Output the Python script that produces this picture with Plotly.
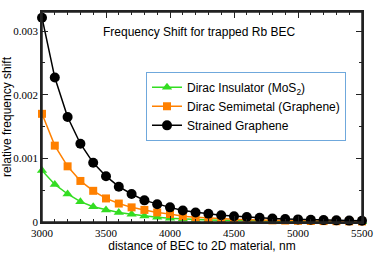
import plotly.graph_objects as go

distance_nm = [3000, 3100, 3200, 3300, 3400, 3500, 3600, 3700, 3800, 3900, 4000,
               4100, 4200, 4300, 4400, 4500, 4600, 4700, 4800, 4900, 5000,
               5100, 5200, 5300, 5400, 5500]

dirac_insulator = [0.81e-3, 0.59e-3, 0.44e-3, 0.32e-3, 0.24e-3, 0.19e-3, 0.15e-3, 0.12e-3,
                   0.095e-3, 0.075e-3, 0.06e-3, 0.048e-3, 0.04e-3, 0.033e-3, 0.027e-3,
                   0.023e-3, 0.019e-3, 0.016e-3, 0.013e-3, 0.011e-3, 0.009e-3,
                   0.0078e-3, 0.0066e-3, 0.0056e-3, 0.0048e-3, 0.004e-3]

dirac_semimetal = [1.70e-3, 1.20e-3, 0.875e-3, 0.645e-3, 0.49e-3, 0.37e-3, 0.29e-3, 0.23e-3,
                   0.19e-3, 0.15e-3, 0.125e-3, 0.092e-3, 0.075e-3, 0.062e-3, 0.052e-3,
                   0.044e-3, 0.037e-3, 0.031e-3, 0.026e-3, 0.022e-3, 0.019e-3,
                   0.016e-3, 0.014e-3, 0.012e-3, 0.010e-3, 0.009e-3]

strained_graphene = [3.21e-3, 2.27e-3, 1.65e-3, 1.23e-3, 0.93e-3, 0.72e-3, 0.555e-3, 0.44e-3,
                     0.34e-3, 0.28e-3, 0.23e-3, 0.18e-3, 0.15e-3, 0.13e-3, 0.105e-3,
                     0.09e-3, 0.078e-3, 0.066e-3, 0.056e-3, 0.048e-3, 0.041e-3,
                     0.035e-3, 0.030e-3, 0.026e-3, 0.022e-3, 0.019e-3]

series_names = ["Dirac Insulator (MoS<sub>2</sub>)", "Dirac Semimetal (Graphene)", "Strained Graphene"]

y_tickvals = [0, 0.001, 0.002, 0.003]
y_ticktext = ["0", "0.001", "0.002", "0.003"]
x_tickvals = [3000, 3500, 4000, 4500, 5000, 5500]
x_ticktext = ["3000", "3500", "4000", "4500", "5000", "5500"]

fig = go.Figure()
fig.add_trace(go.Scatter(x=distance_nm, y=dirac_insulator, name=series_names[0],
                         mode="lines+markers", cliponaxis=False,
                         line=dict(color="#33dd22", width=1.5),
                         marker=dict(symbol="triangle-up", size=9, color="#33dd22")))
fig.add_trace(go.Scatter(x=distance_nm, y=dirac_semimetal, name=series_names[1],
                         mode="lines+markers", cliponaxis=False,
                         line=dict(color="#ff8000", width=1.5),
                         marker=dict(symbol="square", size=8, color="#ff8000")))
fig.add_trace(go.Scatter(x=distance_nm, y=strained_graphene, name=series_names[2],
                         mode="lines+markers", cliponaxis=False,
                         line=dict(color="black", width=1.5),
                         marker=dict(symbol="circle", size=10, color="black")))

axis_common = dict(showline=True, linecolor="#222", linewidth=1.5, mirror="allticks",
                   ticks="inside", ticklen=6, tickcolor="#222", showgrid=False, zeroline=False,
                   automargin=False,
                   tickfont=dict(family="Liberation Serif", size=11, color="black"))

fig.update_xaxes(range=[3000, 5500], tickvals=x_tickvals, ticktext=x_ticktext,
                 minor=dict(ticks="inside", ticklen=3, dtick=100, tick0=3000, tickcolor="#222"),
                 title=dict(text="distance of BEC to 2D material, nm", standoff=4,
                            font=dict(family="Liberation Sans", size=12, color="black")),
                 **axis_common)
fig.update_yaxes(range=[0, 0.0033], tickvals=y_tickvals, ticktext=y_ticktext,
                 minor=dict(ticks="inside", ticklen=3, dtick=0.0005, tick0=0, tickcolor="#222"),
                 title=dict(text="relative frequency shift", standoff=0,
                            font=dict(family="Liberation Sans", size=12, color="black")),
                 **axis_common)

# plot frame
fig.add_shape(type="rect", xref="paper", yref="paper", x0=0, y0=0, x1=1, y1=1,
              line=dict(color="#222", width=1.5), fillcolor="rgba(0,0,0,0)", layer="above")

fig.add_annotation(text="Frequency Shift for trapped Rb BEC", xref="paper", yref="paper",
                   x=0.49, y=0.905, xanchor="center", yanchor="middle", showarrow=False,
                   font=dict(family="Liberation Sans", size=12, color="black"))

fig.update_layout(
    width=374, height=256,
    margin=dict(l=42, r=12, t=12, b=34),
    plot_bgcolor="white", paper_bgcolor="white",
    legend=dict(x=0.325, y=0.715, xanchor="left", yanchor="top",
                bgcolor="white", bordercolor="#6fa8dc", borderwidth=1,
                font=dict(family="Liberation Sans", size=12, color="black"),
                itemwidth=30, tracegroupgap=0),
)

fig.write_html("out.html", config={"displayModeBar": False},
               post_script="document.body.style.margin='0';document.body.style.overflow='hidden';")
